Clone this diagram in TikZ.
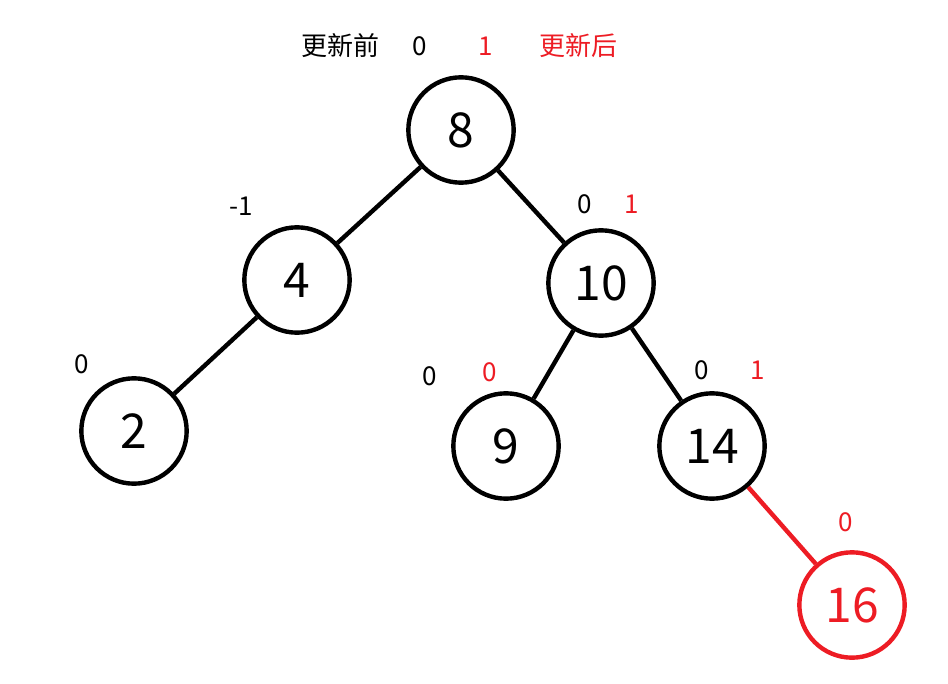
\documentclass[tikz,border=0pt]{standalone}
\usepackage{fontspec}
\setmainfont{Noto Sans CJK SC}
\usepackage{xcolor}
\usetikzlibrary{positioning}
\definecolor{newred}{RGB}{237,28,36}

\begin{document}
\begin{tikzpicture}[
    x=0.75pt, y=-0.75pt,
    key/.style={draw=black, circle, line width=3.3pt, minimum size=79pt,
                inner sep=0pt, font=\fontsize{36}{42}\selectfont},
    newkey/.style={key, draw=newred, text=newred},
    edge/.style={line width=3.3pt},
    bal/.style={font=\fontsize{19.5}{22}\selectfont, inner sep=0pt},
    newbal/.style={bal, text=newred}
]
\useasboundingbox (0,0) rectangle (948,684);

% keys
\node[key] (n8) at (461,130) {8};
\node[key] (n4) at (297,280) {4};
\node[key] (n10) at (601,283) {10};
\node[key] (n2) at (134,431) {2};
\node[key] (n9) at (506,446) {9};
\node[key] (n14) at (712,446) {14};
\node[newkey] (n16) at (852,605) {16};

% balance factors
\node[bal] (before) at (340,46) {更新前};
\node[bal] (b8) at (420,46) {0};
\node[newbal] (a8) at (486,46) {1};
\node[newbal] (after) at (578,46) {更新后};
\node[bal] (b4) at (241,206) {-1};
\node[bal] (b10) at (585,204) {0};
\node[newbal] (a10) at (632,204) {1};
\node[bal] (b2) at (82,364) {0};
\node[bal] (b9) at (430,376) {0};
\node[newbal] (a9) at (490,372) {0};
\node[bal] (b14) at (702,370) {0};
\node[newbal] (a14) at (758,370) {1};
\node[newbal] (a16) at (846,522) {0};

% edges
\draw[edge] (n8) -- (n4);
\draw[edge] (n8) -- (n10);
\draw[edge] (n4) -- (n2);
\draw[edge] (n10) -- (n9);
\draw[edge] (n10) -- (n14);
\draw[edge, draw=newred] (n14) -- (n16);
\end{tikzpicture}
\end{document}
